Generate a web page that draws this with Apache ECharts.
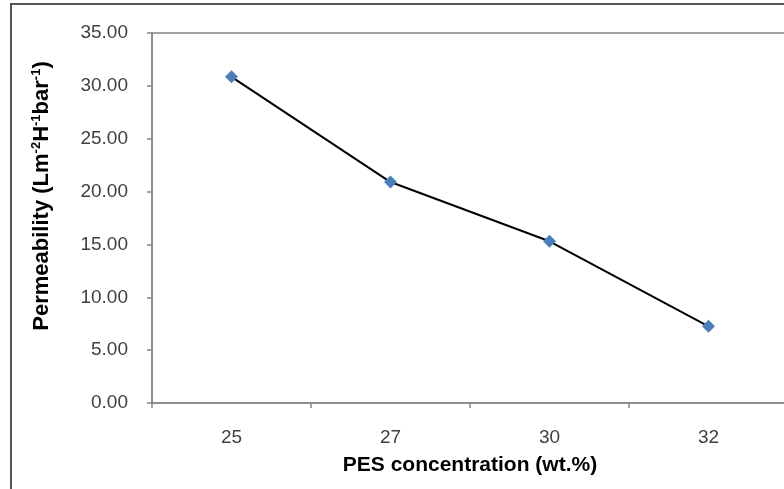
<!DOCTYPE html>
<html><head><meta charset="utf-8">
<script src="https://cdn.jsdelivr.net/npm/echarts@6/dist/echarts.min.js"></script>
<style>html,body{margin:0;padding:0;background:#fff}#c{width:784px;height:489px}</style>
</head><body><div id="c"></div>
<script>
const categories = ['25', '27', '30', '32'];
const permeability = [30.85, 20.9, 15.3, 7.25];
const yTicks = { min: 0, max: 35, interval: 5 };

const chart = echarts.init(document.getElementById('c'), null, { renderer: 'canvas' });
chart.setOption({
  animation: false,
  backgroundColor: '#fff',
  grid: { left: 152, top: 33, width: 636, height: 370, show: true, borderColor: '#868686', borderWidth: 1.5, backgroundColor: 'transparent', outerBoundsMode: 'none', containLabel: false },
  xAxis: {
    type: 'category', data: categories, boundaryGap: true,
    axisLine: { lineStyle: { color: '#868686', width: 1.5 } },
    axisTick: { show: true, length: 5, inside: false, alignWithLabel: false, lineStyle: { color: '#868686', width: 1.5 } },
    axisLabel: { color: '#404040', fontFamily: 'Liberation Sans', fontSize: 19, margin: 25 },
    name: 'PES concentration (wt.%)', nameLocation: 'middle', nameGap: 52,
    nameTextStyle: { color: '#000', fontFamily: 'Liberation Sans', fontWeight: 'bold', fontSize: 21 }
  },
  yAxis: {
    type: 'value', min: yTicks.min, max: yTicks.max, interval: yTicks.interval,
    splitLine: { show: false },
    axisLine: { show: true, lineStyle: { color: '#868686', width: 1.5 } },
    axisTick: { show: true, length: 5, lineStyle: { color: '#868686', width: 1.5 } },
    axisLabel: { color: '#404040', fontFamily: 'Liberation Sans', fontSize: 19, margin: 24, formatter: v => v.toFixed(2) }
  },
  graphic: [
    { type: 'rect', shape: { x: 11, y: 4, width: 800, height: 500 }, style: { fill: 'none', stroke: '#555', lineWidth: 2 }, silent: true },
    { type: 'text', x: 42, y: 196, rotation: Math.PI / 2,
      style: {
        text: '{a|Permeability (Lm}{s|-2}{a|H}{s|-1}{a|bar}{s|-1}{a|)}',
        align: 'center', verticalAlign: 'middle',
        rich: {
          a: { fontFamily: 'Liberation Sans', fontWeight: 'bold', fontSize: 22, fill: '#000' },
          s: { fontFamily: 'Liberation Sans', fontWeight: 'bold', fontSize: 13, fill: '#000', padding: [0, 0, 11, 0] }
        }
      } }
  ],
  series: [{
    type: 'line', data: permeability,
    symbol: 'diamond', symbolSize: 13,
    itemStyle: { color: '#4A7EBB' },
    lineStyle: { color: '#000', width: 2 },
    z: 3
  }]
});
</script></body></html>
